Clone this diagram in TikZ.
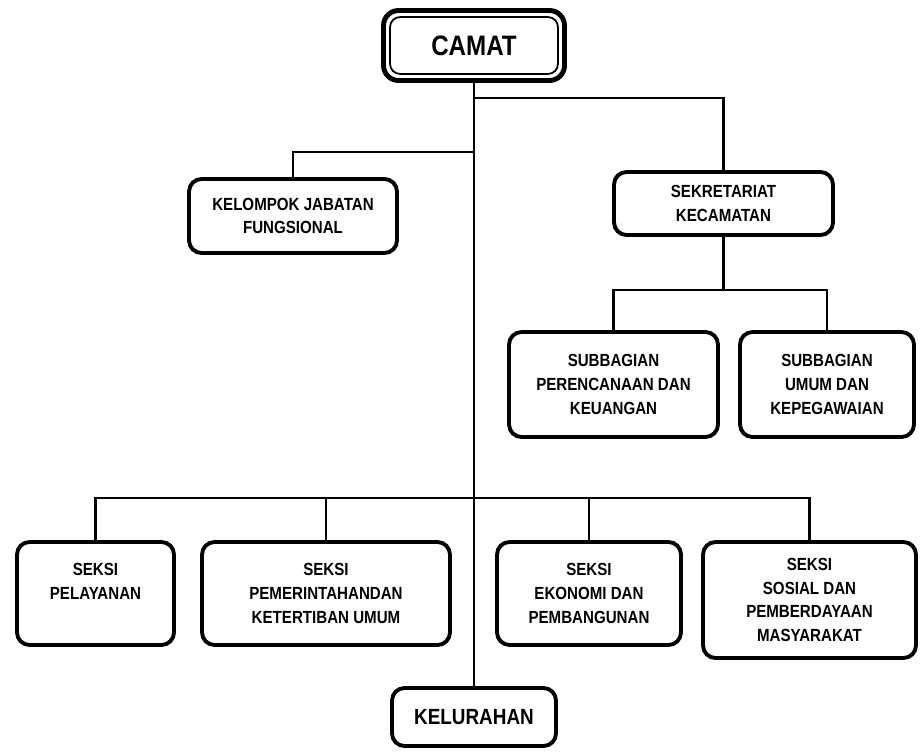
\documentclass[tikz,border=0pt]{standalone}
\usepackage{fontspec}
\setmainfont{Liberation Sans}[FakeStretch=0.86]
\begin{document}
\begin{tikzpicture}[x=0.02cm, y=-0.02cm,
  unit/.style={rectangle, draw, rounded corners=0.25cm, line width=2.2pt, align=center, inner sep=2pt, font=\bfseries\fontsize{10}{13.5}\selectfont},
  link/.style={line width=1.3pt}]

\useasboundingbox (0,0) rectangle (920,751);

\node(camat) [unit, rounded corners=0.3cm, line width=2.8pt, minimum width=3.62cm, minimum height=1.4cm, font=\bfseries\fontsize{16}{18}\selectfont] at (474, 45.5) {CAMAT};
\draw [line width=1pt, rounded corners=0.2cm] ([shift={(0.18cm,-0.18cm)}]camat.north west) rectangle ([shift={(-0.18cm,0.18cm)}]camat.south east);

\node(kjf) [unit, minimum width=4.16cm, minimum height=1.48cm] at (293, 216) {KELOMPOK JABATAN\\FUNGSIONAL};
\node(sekre) [unit, minimum width=4.38cm, minimum height=1.26cm] at (723.5, 203.5) {SEKRETARIAT\\KECAMATAN};

\node(sub1) [unit, minimum width=4.18cm, minimum height=2.1cm] at (613.5, 384.5) {SUBBAGIAN\\PERENCANAAN DAN\\KEUANGAN};
\node(sub2) [unit, minimum width=3.48cm, minimum height=2.1cm] at (827, 384.5) {SUBBAGIAN\\UMUM DAN\\KEPEGAWAIAN};

\node(s1) [unit, minimum width=3.14cm, minimum height=2.06cm] at (95.5, 593.5) {SEKSI\\PELAYANAN\\~};
\node(s2) [unit, minimum width=4.96cm, minimum height=2.06cm] at (326, 593.5) {SEKSI\\PEMERINTAHANDAN\\KETERTIBAN UMUM};
\node(s3) [unit, minimum width=3.68cm, minimum height=2.06cm] at (589, 593.5) {SEKSI\\EKONOMI DAN\\PEMBANGUNAN};
\node(s4) [unit, minimum width=4.26cm, minimum height=2.32cm] at (809.5, 600) {SEKSI\\SOSIAL DAN\\PEMBERDAYAAN\\MASYARAKAT};

\node(kel) [unit, minimum width=3.28cm, minimum height=1.16cm, font=\bfseries\fontsize{12.5}{15}\selectfont] at (474, 717) {KELURAHAN};

\coordinate(busR) at (474, 98);
\coordinate(busL) at (474, 152);
\coordinate(busS) at (723.5, 290);
\coordinate(busB) at (474, 498);

\draw [link] (camat) -- (kel);
\draw [link] (busR) -| (sekre);
\draw [link] (busL) -| (kjf);
\draw [link] (sekre) -- (busS);
\draw [link] (sub1) |- (busS) -| (sub2);
\draw [link] (s1) |- (busB) -| (s4);
\draw [link] (s2) -- (s2 |- busB);
\draw [link] (s3) -- (s3 |- busB);

\end{tikzpicture}
\end{document}
